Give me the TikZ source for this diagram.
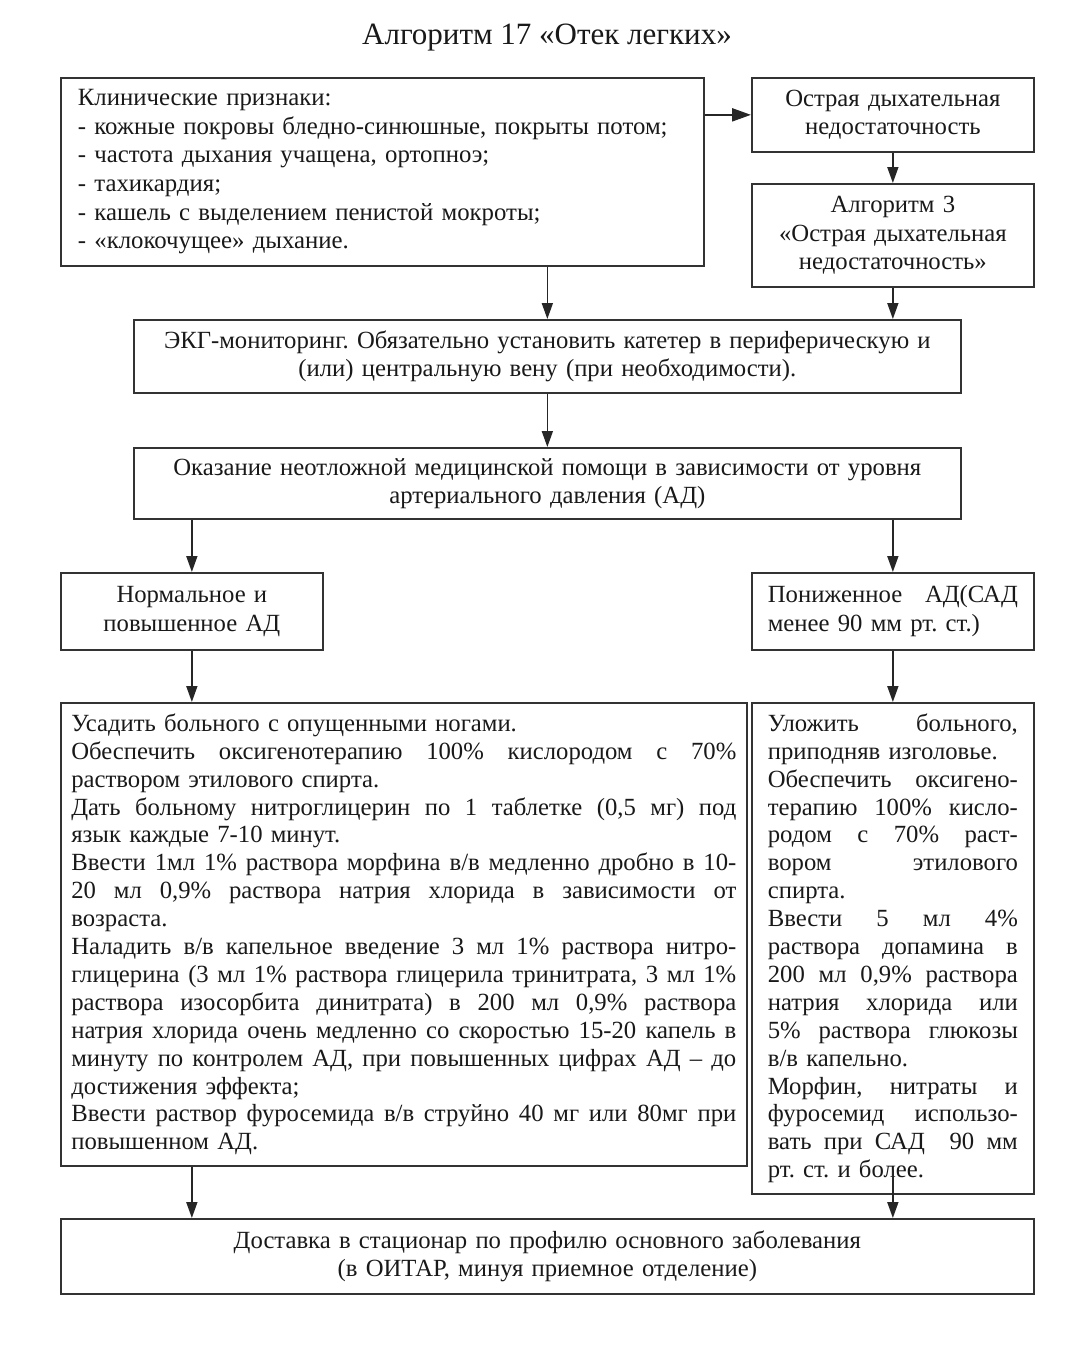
\documentclass[tikz,border=0pt]{standalone}
\usepackage{fontspec}
\setmainfont{Liberation Serif}
\usetikzlibrary{arrows.meta,calc}
\frenchspacing
\newlength\jw
\newcommand\JL[1]{\hbox to\jw{\spaceskip=0.25em plus 1fil\relax #1}}
\newcommand\LL[1]{\hbox to\jw{#1\hfil}}
\begin{document}
\begin{tikzpicture}[x=1pt,y=-1pt,
  every node/.style={font=\fontsize{24.7}{27.9}\selectfont\frenchspacing, text=black!90},
  box/.style={draw=black!80, line width=1.7pt, rectangle, anchor=north west, inner sep=0pt},
  arr/.style={draw=black!85, line width=1.7pt, -{Triangle[length=16pt,width=11pt]}},
  thickarr/.style={draw=black!85, line width=2.2pt, -{Triangle[length=19pt,width=13pt]}}]
\fill[white] (0,0) rectangle (1080,1349);
\useasboundingbox (0,0) rectangle (1080,1349);

\node[font=\fontsize{31}{34}\selectfont] (T) at (547,38) {Алгоритм 17 «Отек легких»};

\node[box, minimum width=643, minimum height=188, text width=609, align=left,
      font=\fontsize{24.8}{28.6}\selectfont] (A) at (60,77)
 {Клинические признаки:\\
 - кожные покровы бледно-синюшные, покрыты потом;\\
 - частота дыхания учащена, ортопноэ;\\
 - тахикардия;\\
 - кашель с выделением пенистой мокроты;\\
 - «клокочущее» дыхание.};

\node[box, minimum width=282, minimum height=74, text width=260, align=center] (B) at (751,77)
 {Острая дыхательная\\недостаточность};

\node[box, minimum width=282, minimum height=103, text width=260, align=center,
      font=\fontsize{24.7}{28.6}\selectfont] (C) at (751,183)
 {Алгоритм 3\\«Острая дыхательная\\недостаточность»};

\node[box, minimum width=827, minimum height=73, text width=800, align=center,
      font=\fontsize{24.7}{28.6}\selectfont] (D) at (133,319)
 {ЭКГ-мониторинг. Обязательно установить катетер в периферическую и\\(или) центральную вену (при необходимости).};

\node[box, minimum width=827, minimum height=71, text width=800, align=center] (E) at (133,447)
 {Оказание неотложной медицинской помощи в зависимости от уровня\\артериального давления (АД)};

\node[box, minimum width=262, minimum height=77, text width=240, align=center,
      font=\fontsize{24.7}{28.6}\selectfont] (F) at (60,572)
 {Нормальное и\\повышенное АД};

\node[box, minimum width=282, minimum height=77, text width=250,
      font=\fontsize{24.7}{28.6}\selectfont] (G) at (751,572)
 {\setlength\jw{250pt}\JL{Пониженное АД(САД} \LL{менее 90 мм рт. ст.)}};

\node[box, minimum width=686, minimum height=463, text width=665] (H) at (60,702)
 {\setlength\jw{665pt}%
  \LL{Усадить больного с опущенными ногами.}
  \JL{Обеспечить оксигенотерапию 100\% кислородом с 70\%}
  \LL{раствором этилового спирта.}
  \JL{Дать больному нитроглицерин по 1 таблетке (0,5 мг) под}
  \LL{язык каждые 7-10 минут.}
  \JL{Ввести 1мл 1\% раствора морфина в/в медленно дробно в 10-}
  \JL{20 мл 0,9\% раствора натрия хлорида в зависимости от}
  \LL{возраста.}
  \JL{Наладить в/в капельное введение 3 мл 1\% раствора нитро-}
  \JL{глицерина (3 мл 1\% раствора глицерила тринитрата, 3 мл 1\%}
  \JL{раствора изосорбита динитрата) в 200 мл 0,9\% раствора}
  \JL{натрия хлорида очень медленно со скоростью 15-20 капель в}
  \JL{минуту по контролем АД, при повышенных цифрах АД – до}
  \LL{достижения эффекта;}
  \JL{Ввести раствор фуросемида в/в струйно 40 мг или 80мг при}
  \LL{повышенном АД.}};

\node[box, minimum width=282, minimum height=491, text width=250] (I) at (751,702)
 {\setlength\jw{250pt}%
  \JL{Уложить больного,}
  \LL{приподняв изголовье.}
  \JL{Обеспечить оксигено-}
  \JL{терапию 100\% кисло-}
  \JL{родом с 70\% раст-}
  \JL{вором этилового}
  \LL{спирта.}
  \JL{Ввести 5 мл 4\%}
  \JL{раствора допамина в}
  \JL{200 мл 0,9\% раствора}
  \JL{натрия хлорида или}
  \JL{5\% раствора глюкозы}
  \LL{в/в капельно.}
  \JL{Морфин, нитраты и}
  \JL{фуросемид использо-}
  \JL{вать при САД \ 90 мм}
  \LL{рт. ст. и более.}};

\node[box, minimum width=973, minimum height=75, text width=940, align=center] (J) at (60,1218)
 {Доставка в стационар по профилю основного заболевания\\(в ОИТАР, минуя приемное отделение)};

\draw[thickarr] (A.east |- B.west) -- (B.west);
\draw[arr] (B.south) -- (C.north);
\draw[arr] (A.south -| D.north) -- (D.north);
\draw[arr] (C.south) -- (C.south |- D.north);
\draw[arr] (D.south) -- (E.north);
\draw[arr] (E.south -| F.north) -- (F.north);
\draw[arr] (E.south -| G.north) -- (G.north);
\draw[arr] (F.south) -- (F.south |- H.north);
\draw[arr] (G.south) -- (I.north);
\coordinate (hb) at (F.south |- H.south);
\draw[arr] (hb) -- (hb |- J.north);
\coordinate (ib) at ([yshift=25pt]I.south);
\draw[arr] (ib) -- (ib |- J.north);
\end{tikzpicture}
\end{document}
